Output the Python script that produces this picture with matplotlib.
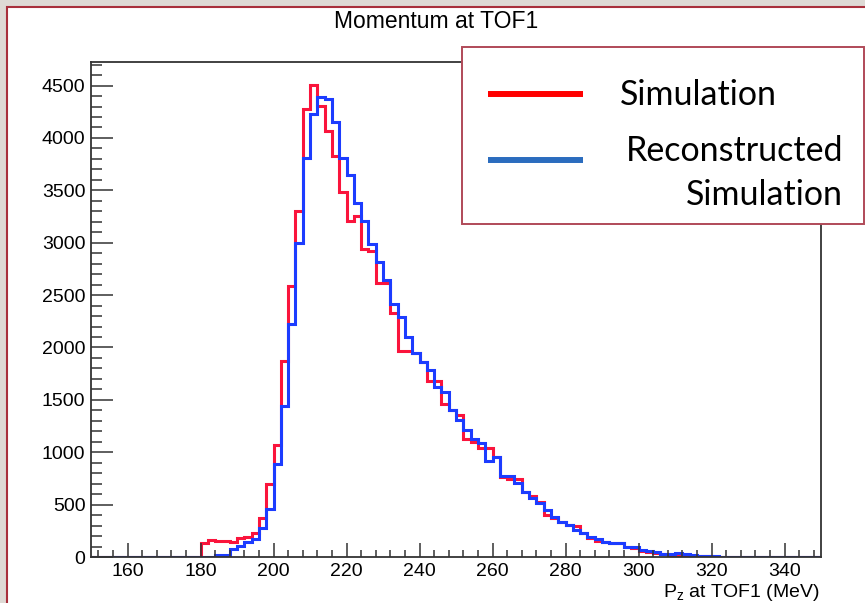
import numpy as np
import matplotlib
matplotlib.use("Agg")
import matplotlib.pyplot as plt
from matplotlib.patches import Rectangle
from matplotlib.lines import Line2D
from matplotlib.ticker import MultipleLocator

plt.rcParams["font.family"] = ["Liberation Sans", "DejaVu Sans"]

# 2 MeV bins over 150-350 MeV; counts given from 180 MeV upward
edges = np.arange(150, 352, 2)
first_bin = 180

sim_counts = [
    138, 165, 154, 148, 140, 180, 194, 226, 375, 694,
    1069, 1870, 2589, 3305, 4281, 4510, 4307, 4065, 3826, 3486,
    3206, 3257, 2936, 2920, 2618, 2612, 2325, 1970, 1970, 1944,
    1864, 1679, 1679, 1460, 1405, 1358, 1128, 1100, 1037, 1037,
    957, 760, 744, 740, 623, 585, 528, 401, 369, 337,
    305, 299, 226, 178, 156, 146, 130, 130, 92, 83,
    57, 51, 41, 29, 19, 22, 16, 10, 10, 6,
    4, 3, 2, 2, 1,
]
reco_counts = [
    0, 3, 15, 20, 75, 105, 146, 169, 273, 458,
    884, 1441, 2223, 2999, 3804, 4225, 4393, 4370, 4148, 3810,
    3645, 3381, 3206, 2990, 2815, 2640, 2415, 2290, 2096, 1950,
    1864, 1786, 1620, 1577, 1403, 1307, 1212, 1128, 1085, 916,
    957, 776, 776, 703, 623, 560, 512, 448, 385, 337,
    305, 258, 226, 194, 169, 146, 130, 136, 92, 92,
    67, 60, 45, 29, 25, 35, 29, 19, 10, 8,
    5, 4, 3, 2, 2,
]

legend_labels = ["Simulation", "Reconstructed", "Simulation"]


def full_hist(counts):
    h = np.zeros(len(edges) - 1)
    i0 = (first_bin - edges[0]) // 2
    h[i0:i0 + len(counts)] = counts
    return h


W, H = 865, 603


def fx(x):
    return x / W


def fy(y):
    return 1 - y / H


fig = plt.figure(figsize=(W / 100, H / 100), dpi=100)
fig.patch.set_facecolor("#dedad5")
fig.add_artist(Rectangle((fx(7), -0.05), 1.1, fy(7) + 0.05,
                         transform=fig.transFigure, facecolor="white",
                         edgecolor="#a8303c", lw=1.5, zorder=-5))

ax = fig.add_axes([fx(91), fy(557), fx(821) - fx(91), fy(62) - fy(557)])
ax.set_facecolor("white")

ax.stairs(full_hist(sim_counts), edges, color="#fa143c", lw=2.2)
ax.stairs(full_hist(reco_counts), edges, color="#1c3cff", lw=2.2)

ax.set_xlim(150, 350)
ax.set_ylim(0, 4725)
ax.xaxis.set_major_locator(MultipleLocator(20))
ax.xaxis.set_minor_locator(MultipleLocator(4))
ax.yaxis.set_major_locator(MultipleLocator(500))
ax.yaxis.set_minor_locator(MultipleLocator(100))

for s in ax.spines.values():
    s.set_color("#333333")
    s.set_linewidth(1.3)

ax.tick_params(axis="x", which="major", direction="in", length=10,
               width=1.1, color="#333333", labelsize=14, pad=4)
ax.tick_params(axis="x", which="minor", direction="in", length=5,
               width=1.1, color="#333333")
ax.tick_params(axis="y", which="major", direction="in", length=16,
               width=1.1, color="#333333", labelsize=14, pad=4)
ax.tick_params(axis="y", which="minor", direction="in", length=8,
               width=1.1, color="#333333")

fig.text(fx(436), fy(22), "Momentum at TOF1", ha="center", va="center",
         fontsize=16.5)
fig.text(fx(820), fy(597), "P$_\\mathregular{z}$ at TOF1 (MeV)",
         ha="right", va="baseline", fontsize=14)

# legend panel
fig.add_artist(Rectangle((fx(462), fy(224)), fx(864) - fx(462),
                         fy(47) - fy(224), transform=fig.transFigure,
                         facecolor="white", edgecolor="#b04a58", lw=1.4,
                         zorder=5))
fig.add_artist(Line2D([fx(488), fx(583)], [fy(94), fy(94)],
                      transform=fig.transFigure, color="#ff0000", lw=4.3,
                      solid_capstyle="butt", zorder=6))
fig.add_artist(Line2D([fx(488), fx(583)], [fy(160), fy(160)],
                      transform=fig.transFigure, color="#2b6cbe", lw=4.3,
                      solid_capstyle="butt", zorder=6))
fig.text(fx(620), fy(105), legend_labels[0], ha="left", va="baseline",
         fontsize=24.5, family="Lato", zorder=7)
fig.text(fx(843), fy(161), legend_labels[1], ha="right", va="baseline",
         fontsize=24.5, family="Lato", zorder=7)
fig.text(fx(843), fy(205), legend_labels[2], ha="right", va="baseline",
         fontsize=24.5, family="Lato", zorder=7)

fig.savefig("out.png", dpi=100, facecolor=fig.get_facecolor())
